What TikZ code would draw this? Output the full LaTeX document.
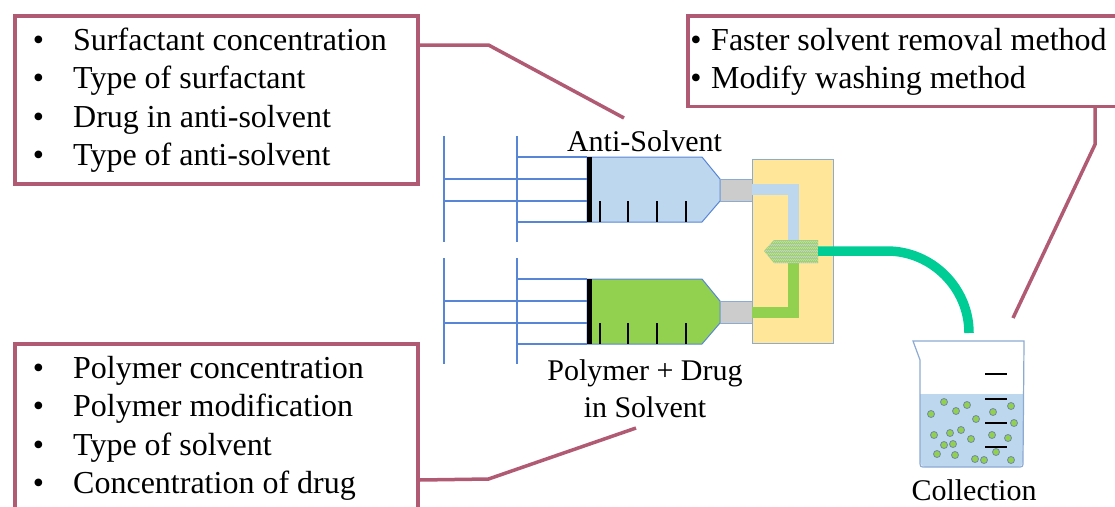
\documentclass[tikz,border=0pt]{standalone}
\usepackage{fontspec}
\setmainfont{Liberation Serif}
\usetikzlibrary{patterns}

\definecolor{callred}{RGB}{176,90,116}
\definecolor{rodblue}{RGB}{88,134,214}
\definecolor{solblue}{RGB}{189,215,238}
\definecolor{polgreen}{RGB}{146,208,80}
\definecolor{nozgray}{RGB}{204,204,204}
\definecolor{mixyellow}{RGB}{255,230,153}
\definecolor{tubeteal}{RGB}{0,204,150}
\definecolor{glassblue}{RGB}{140,170,210}
\definecolor{meshgray}{RGB}{196,208,214}

% small checker for the mixing tip
\pgfdeclarepatternformonly{finechecker}{\pgfqpoint{0pt}{0pt}}{\pgfqpoint{2.4pt}{2.4pt}}{\pgfqpoint{2.4pt}{2.4pt}}{
  \pgfpathrectangle{\pgfqpoint{0pt}{0pt}}{\pgfqpoint{1.2pt}{1.2pt}}
  \pgfpathrectangle{\pgfqpoint{1.2pt}{1.2pt}}{\pgfqpoint{1.2pt}{1.2pt}}
  \pgfusepath{fill}}

\tikzset{
  callbox/.style={draw=callred, line width=3.5pt, anchor=north west, inner sep=0pt},
  callout/.style={draw=callred, line width=3.5pt},
  listtext/.style={font=\fontsize{32}{38}\selectfont, inner sep=0pt, anchor=base west},
  bulletmark/.style={font=\fontsize{32}{38}\selectfont, inner sep=0pt, anchor=base},
  lbl/.style={font=\fontsize{30}{37}\selectfont, inner sep=0pt},
  rod/.style={draw=rodblue, line width=2pt},
  thinrod/.style={draw=rodblue, line width=1.2pt},
  bead/.style={fill=polgreen, draw=glassblue!80!black, line width=0.8pt},
}

\begin{document}
\begin{tikzpicture}[x=1pt,y=-1pt]
\useasboundingbox (0,0) rectangle (1115,506);
\clip (0,0) rectangle (1115,506);

% the two syringes
\foreach \dy/\liq in {0/solblue, 122/polgreen} {
  \draw[rod] (444,136+\dy) -- (444,242+\dy);
  \draw[rod] (517,136+\dy) -- (517,242+\dy);
  \draw[thinrod] (517,157+\dy) -- (587,157+\dy);
  \draw[thinrod] (444,179+\dy) -- (587,179+\dy);
  \draw[thinrod] (444,201+\dy) -- (587,201+\dy);
  \draw[thinrod] (517,222+\dy) -- (587,222+\dy);
  \filldraw[fill=\liq, draw=rodblue, line width=1pt] (587,157+\dy) -- (702,157+\dy) -- (720,179+\dy)
    -- (720,201+\dy) -- (702,222+\dy) -- (587,222+\dy) -- cycle;
  \draw[line width=5pt] (589.5,157+\dy) -- (589.5,222+\dy);
  \foreach \tx in {600,628,657,686}
    \draw[line width=1.5pt] (\tx,201+\dy) -- (\tx,222+\dy);
  \filldraw[fill=nozgray, draw=glassblue, line width=0.8pt] (720,179+\dy) rectangle (752,201+\dy);
}

% mixing block
\node[draw=glassblue, fill=mixyellow, line width=1pt, minimum width=81, minimum height=184,
  anchor=north west, inner sep=0pt] (mixer) at (752,159) {};
\draw[solblue, line width=11pt] (752,189.5) -- (793.5,189.5) -- (793.5,245);
\draw[polgreen, line width=11pt] (752,312) -- (793.5,312) -- (793.5,258);
\path[fill=polgreen!90, postaction={pattern=finechecker, pattern color=meshgray}]
  (764,251) -- (774,240) -- (818,240) -- (818,263) -- (774,263) -- cycle;
\coordinate (mixtip) at (818,251);
\coordinate (tubeend) at (969,333);
\draw[tubeteal, line width=9.5pt] (mixtip) -- (887,251) .. controls (932,251) and (969,288) .. (tubeend);

% collection beaker
\begin{scope}
  \clip (900,394) rectangle (1040,480);
  \fill[solblue, rounded corners=6pt] (920,341) rectangle (1023,467);
\end{scope}
\draw[glassblue, line width=1.2pt] (913,341) -- (920,360) -- (920,461) .. controls (920,467) .. (926,467)
  -- (1017,467) .. controls (1023,467) .. (1023,461) -- (1024,341) -- cycle;
\foreach \gy in {374,399,423,447}
  \draw[line width=1.5pt] (985,\gy) -- (1007,\gy);
\foreach \bx/\by in {944/402, 967/405, 956/411, 931/414, 993/412, 1011/406, 976/419, 1014/423,
    961/430, 950/433, 934/435, 971/439, 992/435, 1008/438, 944/445, 953/444, 996/452,
    937/454, 955/455, 975/459, 984/460, 1011/460}
  \draw[bead] (\bx,\by) circle (3.5pt);

% labels
\node[lbl, anchor=base] (antilbl) at (644.5,151) {Anti-Solvent};
\node[lbl, anchor=north, align=center] (polylbl) at (645,359.5) {Polymer + Drug\\in Solvent};
\node[lbl, anchor=base] (colllbl) at (974,500) {Collection};

% parameter boxes
\node[callbox, minimum width=403, minimum height=168] (tlbox) at (13,14) {};
\node[callbox, minimum width=403, minimum height=180] (blbox) at (13,342) {};
\node[callbox, minimum width=440, minimum height=90.5] (trbox) at (686,14) {};

\foreach \txt [count=\i] in {Surfactant concentration, Type of surfactant,
    Drug in anti-solvent, Type of anti-solvent} {
  \node[bulletmark] (tlb\i) at (38.5,{11.5+38.5*\i}) {\textbullet};
  \node[listtext] (tl\i) at (73,{11.5+38.5*\i}) {\txt};
}
\foreach \txt [count=\i] in {Polymer concentration, Polymer modification,
    Type of solvent, Concentration of drug} {
  \node[bulletmark] (blb\i) at (38.5,{339.5+38.5*\i}) {\textbullet};
  \node[listtext] (bl\i) at (73,{339.5+38.5*\i}) {\txt};
}
\foreach \txt [count=\i] in {Faster solvent removal method, Modify washing method} {
  \node[bulletmark] (trb\i) at (696,{11.5+38.5*\i}) {\textbullet};
  \node[listtext] (tr\i) at (711,{11.5+38.5*\i}) {\txt};
}

% callout lines
\coordinate (antiend) at (624,118);
\coordinate (polyend) at (636,428);
\coordinate (collend) at (1013,318);
\draw[callout] ([yshift=-31pt]tlbox.north east) -- ++(69,0) -- (antiend);
\draw[callout] ([yshift=-138pt]blbox.north east) -- ++(69,-1) -- (polyend);
\draw[callout] ([xshift=409pt]trbox.south west) -- ++(0,36.5) -- (collend);
\end{tikzpicture}
\end{document}
